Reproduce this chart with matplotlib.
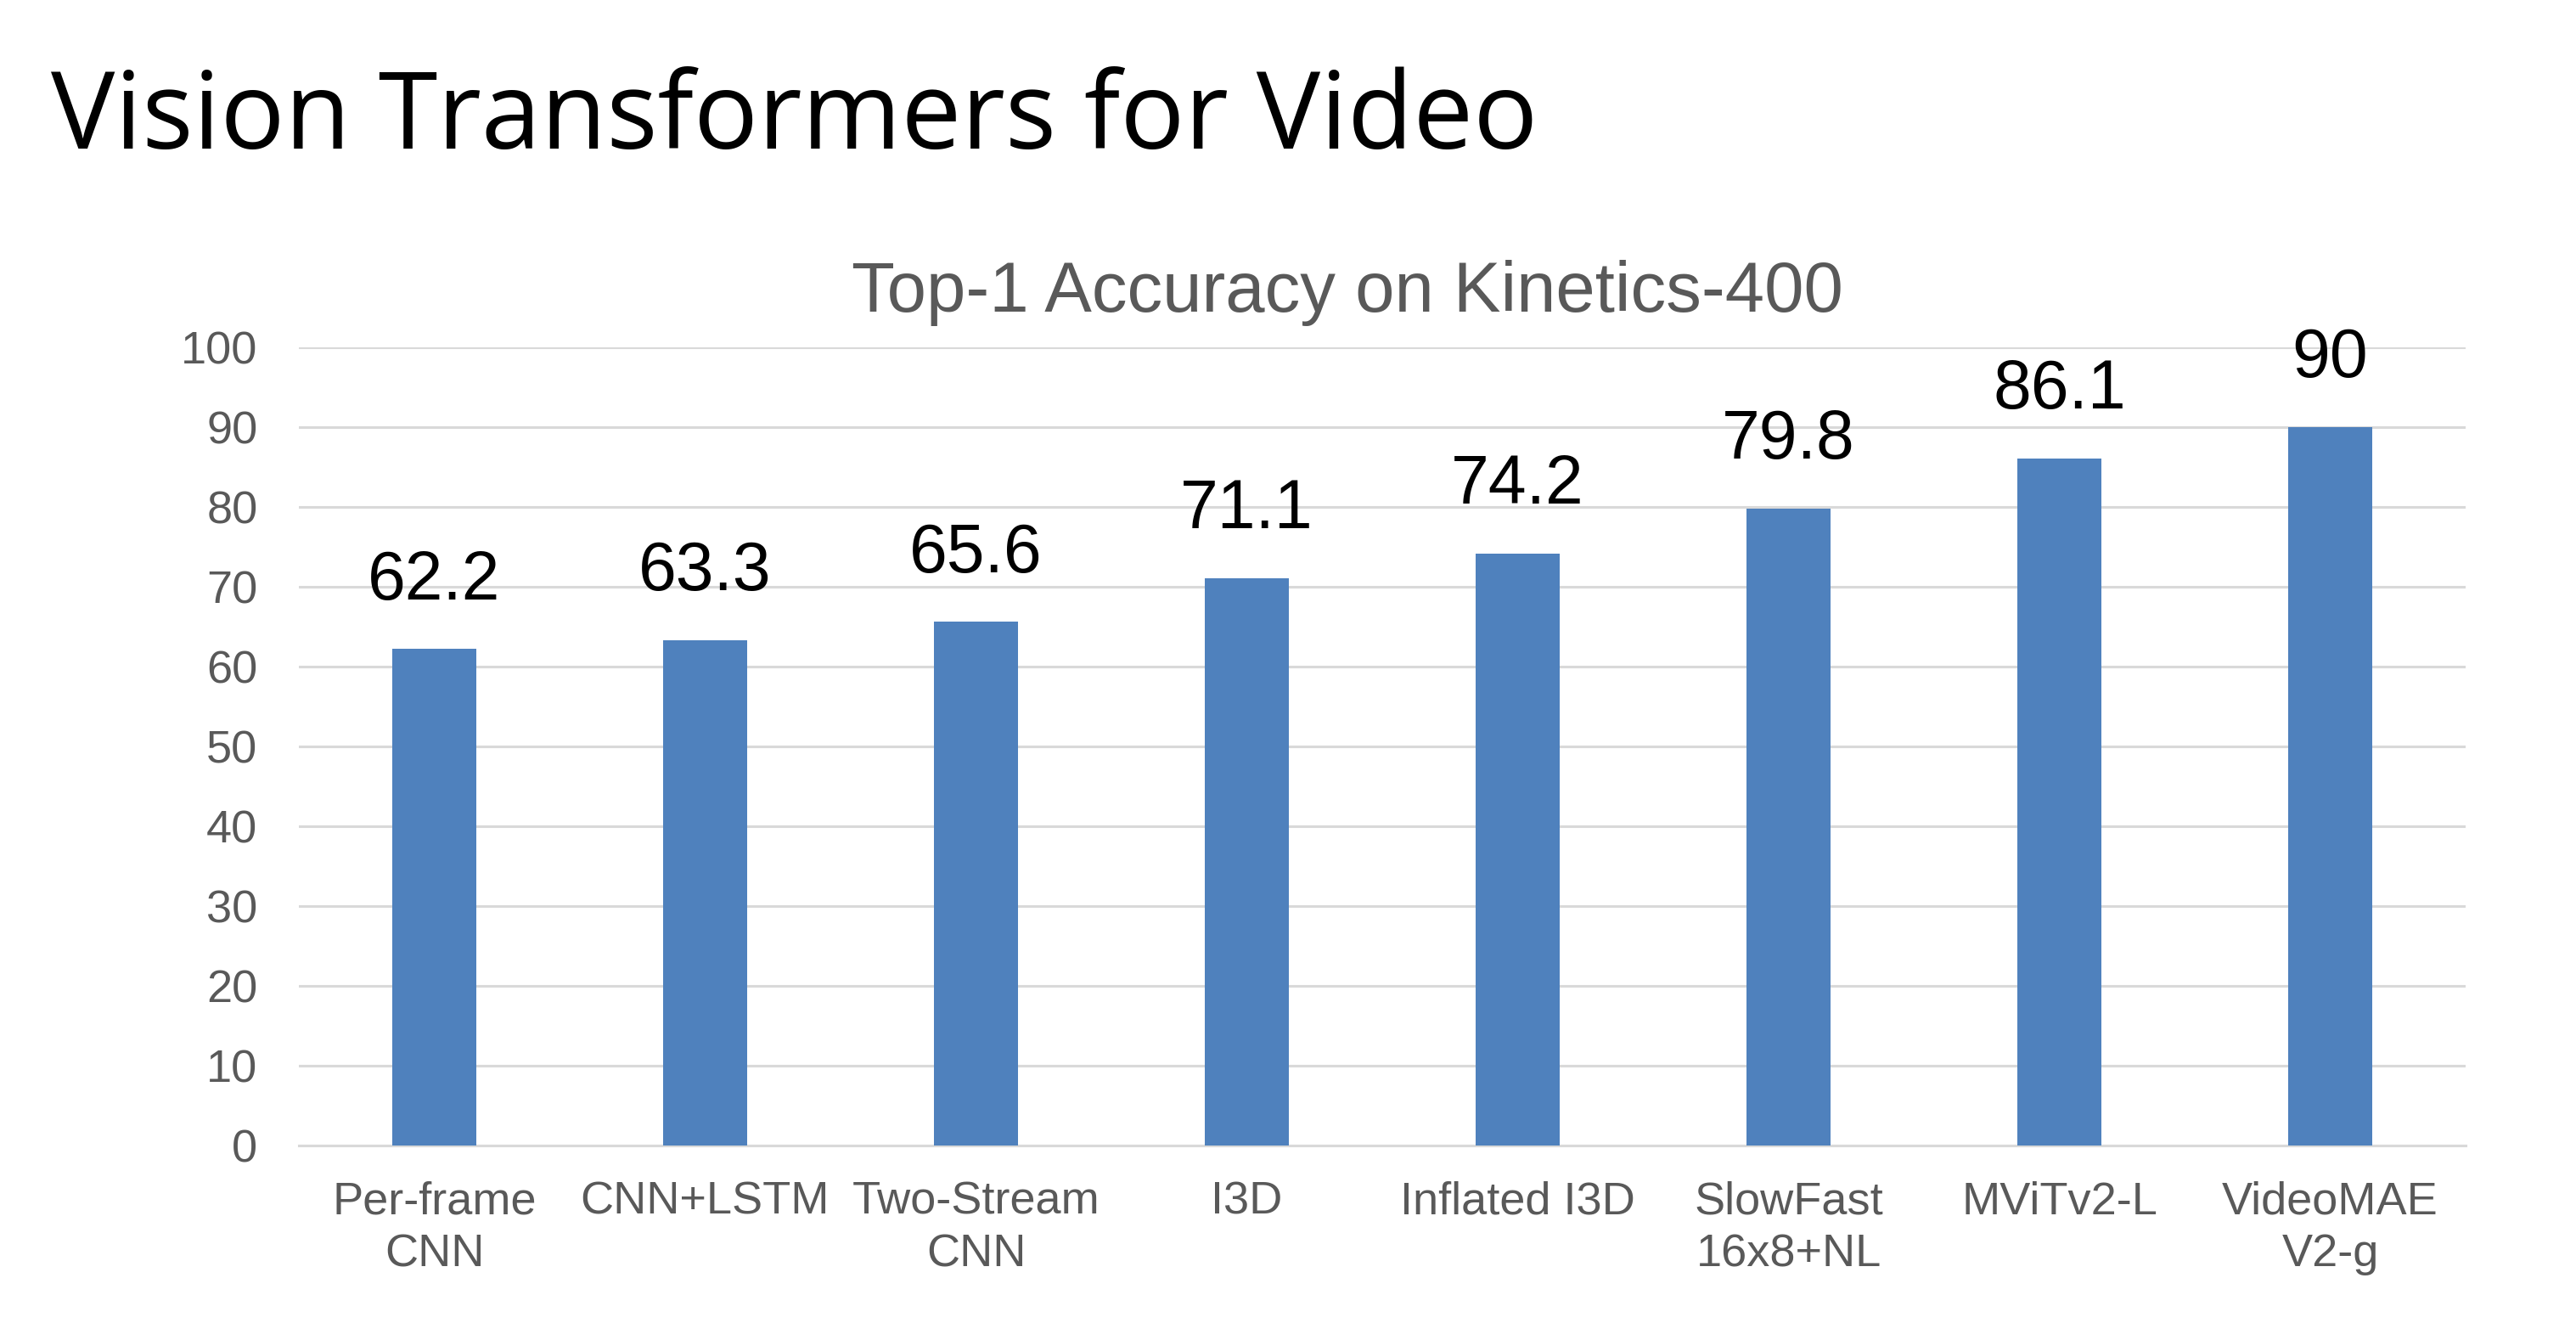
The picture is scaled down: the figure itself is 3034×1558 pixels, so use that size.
import numpy as np
import matplotlib
matplotlib.use("Agg")
import matplotlib.pyplot as plt

# chart data
models = ["Per-frame\nCNN", "CNN+LSTM", "Two-Stream\nCNN", "I3D", "Inflated I3D",
          "SlowFast\n16x8+NL", "MViTv2-L", "VideoMAE\nV2-g"]
top1 = [62.2, 63.3, 65.6, 71.1, 74.2, 79.8, 86.1, 90]
value_labels = ["62.2", "63.3", "65.6", "71.1", "74.2", "79.8", "86.1", "90"]
yticks = [0, 10, 20, 30, 40, 50, 60, 70, 80, 90, 100]

plt.rcParams["font.family"] = ["Liberation Sans", "DejaVu Sans"]

W, H = 3034, 1558
fig = plt.figure(figsize=(W / 100, H / 100), dpi=100)
ax = fig.add_axes([352 / W, 1 - 1349 / H, (2904 - 352) / W, (1349 - 409) / H])

x = np.arange(len(models))
bars = ax.bar(x, top1, width=0.31, color="#4F81BD", zorder=3)

# value labels above bars
for xi, v, s in zip(x, top1, value_labels):
    ax.annotate(s, (xi, v), xytext=(0, 30), textcoords="offset points",
                ha="center", va="bottom", fontsize=58, color="black")

ax.set_xlim(-0.5, len(models) - 0.5)
ax.set_ylim(0, 100)
ax.set_yticks(yticks)
ax.set_yticklabels([str(t) for t in yticks])
ax.set_xticks(x)
ax.set_xticklabels(models, linespacing=1.3)
ax.tick_params(axis="y", length=0, pad=35, labelsize=39, labelcolor="#595959")
ax.tick_params(axis="x", length=0, pad=30, labelsize=39, labelcolor="#595959")
ax.yaxis.grid(True, color="#D9D9D9", linewidth=2.2, zorder=0)
for side in ["top", "right", "left"]:
    ax.spines[side].set_visible(False)
ax.spines["bottom"].set_color("#D9D9D9")
ax.spines["bottom"].set_linewidth(2.2)

# chart title and slide title
fig.text(1587 / W, 1 - 367 / H, "Top-1 Accuracy on Kinetics-400", ha="center",
         va="baseline", fontsize=60, color="#595959")
fig.text(60 / W, 1 - 175 / H, "Vision Transformers for Video", ha="left",
         va="baseline", fontsize=91, color="black",
         family=["Open Sans", "DejaVu Sans"])

fig.savefig("out.png", dpi=100, facecolor="white")
